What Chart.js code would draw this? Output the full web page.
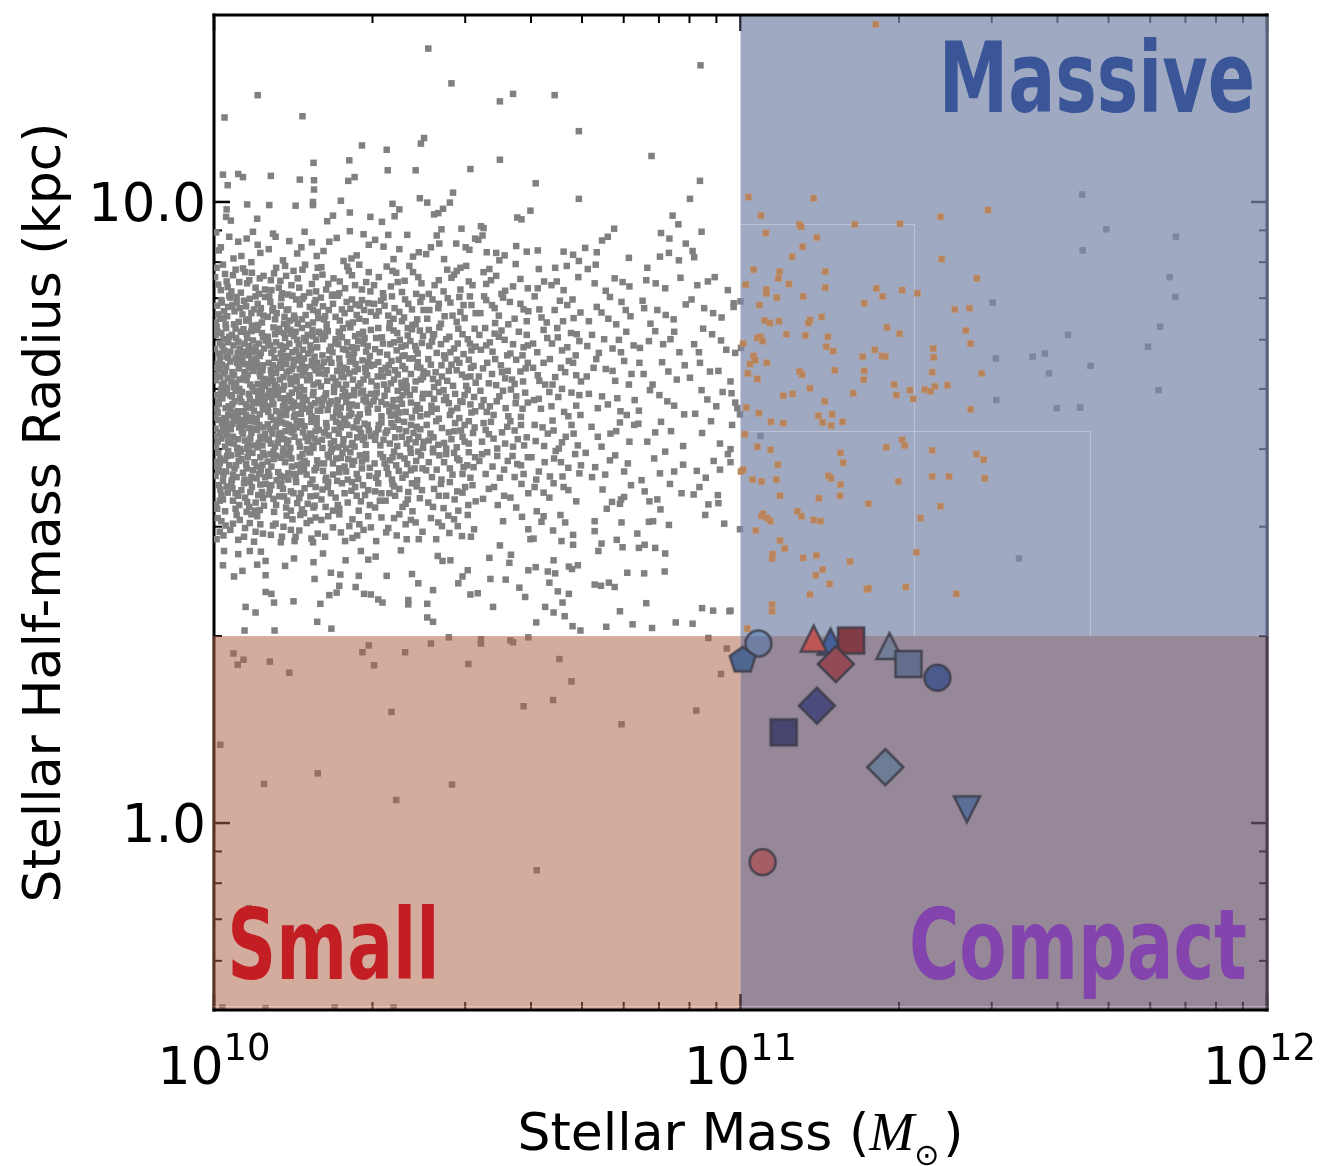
<!DOCTYPE html>
<html>
<head>
<meta charset="utf-8">
<script src="https://cdn.jsdelivr.net/npm/chart.js@4.4.0/dist/chart.umd.min.js"></script>
<style>
  html,body{margin:0;padding:0;background:#fff;}
  #wrap{width:1320px;height:1166px;}
</style>
</head>
<body>
<div id="wrap"><canvas id="chart" width="1320" height="1166"></canvas></div>
<script>
// axes
const massRange = [1e10, 1e12];
const radiusRange = [0.5, 20];
const xMajorTicks = [1e10, 1e11, 1e12];
const xTickExponents = ['10', '11', '12'];
const xMinorTicks = [2e10,3e10,4e10,5e10,6e10,7e10,8e10,9e10,2e11,3e11,4e11,5e11,6e11,7e11,8e11,9e11];
const yMajorTicks = [1, 10];
const yTickLabels = ['1.0', '10.0'];
const yMinorTicks = [0.6,0.7,0.8,0.9,2,3,4,5,6,7,8,9];

// selection cuts
const massCut = 1e11;
const radiusCut = 2;
const regionFloor = 0.507;
// upper corners of the two sub-boxes inside the massive region (log M, log R)
const boxLogMHi = [11.329, 11.664];
const boxLogRHi = [0.965, 0.632];

// field galaxies, [log10 M*, log10 R_half]
const fieldCloud = [
[10.013,.927],[10.062,.941],[10.037,.909],[10.088,.918],[10.004,.951],[10.071,.903],[10.046,.936],
[10.021,.884],[10.079,.862],[10.008,.867],[10.055,.893],[10.094,.881],[10.033,.856],[10.067,.874],[10.017,.899],[10.048,.871],[10.085,.852],[10.026,.863],[10.059,.887],[10.002,.879],
[10.043,.838],[10.011,.812],[10.076,.827],[10.029,.849],[10.091,.806],[10.054,.819],[10.006,.833],[10.068,.844],[10.038,.803],[10.083,.836],[10.019,.824],[10.061,.809],[10.097,.847],[10.025,.816],[10.049,.829],[10.072,.801],[10.014,.842],[10.087,.821],[10.035,.834],
[10.058,.772],[10.003,.786],[10.031,.759],[10.081,.794],[10.016,.768],[10.066,.753],[10.042,.781],[10.095,.764],[10.023,.797],[10.074,.777],[10.009,.756],[10.051,.791],[10.087,.752],[10.037,.769],[10.062,.788],[10.018,.779],[10.093,.783],[10.045,.757],[10.027,.774],[10.079,.766],[10.005,.799],[10.069,.762],[10.056,.795],[10.012,.751],
[10.003,.713],[10.071,.744],[10.038,.702],[10.092,.729],[10.015,.738],[10.056,.716],[10.027,.749],[10.083,.707],[10.009,.731],[10.064,.722],[10.044,.741],[10.097,.704],[10.021,.727],[10.078,.735],[10.033,.711],[10.051,.746],[10.088,.719],[10.006,.733],[10.069,.706],[10.041,.748],[10.017,.724],[10.094,.715],[10.059,.739],[10.025,.701],[10.075,.728],[10.048,.742],[10.012,.718],[10.086,.734],
[10.034,.687],[10.007,.661],[10.082,.676],[10.053,.694],[10.019,.652],[10.068,.683],[10.091,.698],[10.028,.671],[10.045,.656],[10.076,.664],[10.002,.689],[10.061,.674],[10.013,.697],[10.087,.658],[10.039,.679],[10.057,.663],[10.024,.692],[10.096,.681],[10.072,.653],[10.009,.675],[10.048,.699],[10.031,.666],[10.084,.688],[10.064,.669],[10.016,.684],[10.052,.678],[10.079,.695],[10.037,.654],[10.005,.667],[10.093,.672],
[10.011,.627],[10.058,.641],[10.085,.612],[10.032,.634],[10.004,.606],[10.071,.628],[10.046,.618],[10.023,.647],[10.094,.637],[10.062,.603],[10.017,.639],[10.079,.645],[10.038,.611],[10.053,.631],[10.008,.649],[10.088,.622],[10.027,.614],[10.066,.636],[10.042,.648],[10.014,.619],[10.074,.608],[10.097,.626],[10.049,.602],[10.035,.643],[10.082,.633],[10.001,.623],[10.059,.616],[10.021,.631],
[10.047,.583],[10.018,.561],[10.073,.596],[10.006,.574],[10.089,.568],[10.034,.552],[10.061,.578],[10.025,.591],[10.081,.555],[10.012,.587],[10.055,.564],[10.096,.593],[10.039,.571],[10.068,.549],[10.003,.559],[10.077,.581],[10.029,.576],[10.051,.598],[10.015,.566],[10.092,.577],[10.043,.557],[10.064,.589],[10.021,.584],[10.086,.562],[10.008,.596],
[10.026,.532],[10.063,.517],[10.009,.544],[10.084,.528],[10.041,.506],[10.072,.541],[10.017,.521],[10.052,.536],[10.095,.511],[10.033,.548],[10.004,.513],[10.078,.503],[10.046,.527],[10.088,.545],[10.021,.502],[10.059,.524],[10.012,.537],[10.067,.509],[10.036,.519],[10.091,.533],
[10.014,.486],[10.057,.461],[10.082,.494],[10.031,.472],[10.005,.457],[10.068,.483],[10.043,.496],[10.093,.466],[10.022,.479],[10.076,.453],[10.049,.488],[10.011,.469],
[10.117,.944],[10.158,.917],[10.186,.935],[10.131,.906],[10.172,.952],[10.104,.924],
[10.126,.873],[10.168,.891],[10.109,.858],[10.147,.866],[10.193,.879],[10.135,.897],[10.181,.854],[10.114,.885],[10.159,.877],[10.141,.851],[10.197,.894],[10.123,.862],
[10.152,.817],[10.107,.839],[10.188,.826],[10.133,.804],[10.171,.848],[10.119,.821],[10.163,.835],[10.144,.809],[10.198,.813],[10.128,.845],[10.179,.802],[10.112,.829],[10.156,.843],[10.191,.837],[10.138,.826],[10.167,.811],[10.102,.815],
[10.174,.776],[10.121,.791],[10.149,.758],[10.106,.769],[10.187,.794],[10.135,.781],[10.162,.753],[10.113,.798],[10.196,.766],[10.143,.772],[10.127,.756],[10.178,.786],[10.155,.791],[10.102,.783],[10.169,.762],[10.139,.799],[10.191,.751],[10.118,.774],[10.158,.778],[10.183,.769],[10.131,.763],[10.146,.788],
[10.138,.726],[10.104,.741],[10.177,.713],[10.151,.737],[10.116,.705],[10.193,.729],[10.129,.748],[10.164,.702],[10.109,.721],[10.186,.744],[10.145,.716],[10.121,.733],[10.172,.727],[10.198,.709],[10.133,.704],[10.159,.745],[10.112,.737],[10.181,.721],[10.148,.731],[10.125,.714],[10.167,.739],[10.103,.708],[10.191,.734],[10.141,.749],[10.156,.719],[10.118,.725],
[10.111,.678],[10.162,.691],[10.137,.657],[10.184,.673],[10.105,.696],[10.149,.669],[10.126,.684],[10.195,.652],[10.171,.686],[10.118,.663],[10.156,.699],[10.134,.676],[10.189,.694],[10.108,.654],[10.177,.667],[10.143,.688],[10.123,.697],[10.165,.659],[10.198,.681],[10.131,.671],[10.152,.654],[10.114,.689],[10.182,.663],[10.146,.679],[10.102,.671],[10.169,.677],[10.128,.661],
[10.153,.622],[10.119,.644],[10.187,.608],[10.136,.631],[10.104,.617],[10.172,.639],[10.145,.604],[10.124,.626],[10.195,.642],[10.161,.614],[10.113,.649],[10.182,.627],[10.139,.611],[10.157,.637],[10.107,.634],[10.176,.602],[10.129,.645],[10.191,.619],[10.148,.629],[10.116,.606],[10.166,.647],[10.133,.618],[10.199,.633],[10.142,.641],[10.121,.612],[10.184,.624],
[10.127,.588],[10.164,.566],[10.109,.574],[10.183,.597],[10.141,.553],[10.118,.591],[10.176,.579],[10.152,.562],[10.105,.559],[10.194,.572],[10.135,.581],[10.168,.594],[10.122,.565],[10.187,.553],[10.147,.587],[10.113,.598],[10.159,.576],[10.196,.584],[10.132,.557],[10.171,.569],[10.143,.596],[10.102,.582],
[10.146,.534],[10.118,.512],[10.183,.526],[10.128,.547],[10.167,.505],[10.104,.529],[10.193,.541],[10.139,.519],[10.156,.549],[10.114,.501],[10.178,.514],[10.131,.538],[10.162,.523],[10.109,.544],[10.189,.508],[10.151,.531],[10.124,.526],
[10.117,.482],[10.162,.471],[10.138,.495],[10.185,.458],[10.108,.464],[10.149,.489],[10.176,.483],[10.127,.452],[10.193,.492],[10.155,.461],[10.132,.477],[10.171,.499],
[10.233,.942],[10.271,.914],[10.208,.921],[10.258,.953],[10.294,.931],[10.246,.905],
[10.217,.868],[10.262,.882],[10.238,.853],[10.289,.871],[10.204,.895],[10.249,.861],[10.276,.899],[10.227,.877],[10.297,.856],[10.256,.889],[10.213,.859],
[10.243,.827],[10.209,.811],[10.281,.842],[10.226,.836],[10.264,.806],[10.298,.823],[10.235,.849],[10.271,.818],[10.214,.803],[10.252,.839],[10.288,.808],[10.231,.815],[10.259,.828],[10.203,.846],[10.277,.833],
[10.268,.784],[10.219,.761],[10.245,.797],[10.292,.768],[10.207,.779],[10.256,.754],[10.231,.773],[10.283,.791],[10.214,.795],[10.262,.766],[10.239,.787],[10.296,.752],[10.225,.758],[10.274,.776],[10.251,.762],[10.203,.788],[10.286,.781],[10.236,.771],
[10.226,.717],[10.273,.731],[10.209,.742],[10.251,.706],[10.291,.721],[10.238,.748],[10.264,.714],[10.214,.729],[10.282,.745],[10.246,.733],[10.203,.703],[10.269,.739],[10.231,.711],[10.297,.736],[10.257,.724],[10.219,.747],[10.278,.708],[10.242,.719],[10.262,.749],[10.288,.726],[10.234,.728],
[10.257,.668],[10.212,.689],[10.284,.681],[10.239,.657],[10.266,.697],[10.205,.673],[10.293,.661],[10.228,.694],[10.251,.678],[10.274,.653],[10.216,.665],[10.245,.699],[10.288,.686],[10.233,.671],[10.261,.659],[10.209,.684],[10.279,.692],[10.247,.651],[10.223,.679],[10.296,.674],[10.254,.688],[10.236,.664],
[10.214,.638],[10.263,.612],[10.237,.627],[10.286,.643],[10.206,.604],[10.249,.648],[10.272,.621],[10.228,.615],[10.294,.632],[10.241,.637],[10.218,.624],[10.267,.606],[10.253,.641],[10.283,.617],[10.232,.646],[10.209,.629],[10.276,.635],[10.245,.609],[10.298,.623],[10.224,.603],
[10.248,.574],[10.216,.593],[10.271,.562],[10.234,.551],[10.289,.586],[10.207,.567],[10.259,.597],[10.226,.579],[10.281,.571],[10.241,.588],[10.213,.556],[10.266,.583],[10.295,.559],[10.238,.565],[10.254,.553],[10.222,.598],[10.277,.592],
[10.231,.524],[10.268,.541],[10.212,.509],[10.254,.516],[10.287,.528],[10.243,.547],[10.206,.537],[10.275,.503],[10.222,.531],[10.261,.535],[10.296,.512],[10.238,.506],[10.217,.549],[10.283,.544],
[10.226,.476],[10.263,.489],[10.211,.461],[10.249,.454],[10.284,.472],[10.238,.497],[10.272,.463],[10.204,.488],[10.257,.478],[10.293,.494],
[10.322,.928],[10.367,.947],[10.341,.908],[10.389,.919],[10.306,.939],
[10.336,.864],[10.378,.887],[10.313,.879],[10.357,.855],[10.394,.869],[10.328,.896],[10.362,.873],[10.346,.886],[10.384,.852],
[10.352,.823],[10.317,.841],[10.386,.811],[10.334,.805],[10.369,.836],[10.308,.817],[10.395,.847],[10.343,.829],[10.377,.802],[10.324,.833],[10.361,.814],[10.398,.826],[10.338,.848],
[10.319,.782],[10.364,.769],[10.341,.793],[10.387,.756],[10.306,.763],[10.353,.778],[10.376,.795],[10.329,.754],[10.395,.773],[10.347,.761],[10.312,.797],[10.368,.785],[10.335,.771],[10.382,.768],[10.358,.752],
[10.358,.736],[10.311,.719],[10.383,.711],[10.337,.744],[10.366,.703],[10.304,.738],[10.349,.722],[10.392,.733],[10.323,.706],[10.371,.748],[10.342,.714],[10.318,.729],[10.387,.742],[10.356,.709],[10.331,.725],[10.397,.718],[10.363,.731],
[10.327,.674],[10.372,.689],[10.345,.658],[10.309,.693],[10.391,.667],[10.353,.682],[10.318,.655],[10.381,.698],[10.338,.671],[10.364,.662],[10.303,.679],[10.396,.684],[10.349,.696],[10.324,.688],[10.376,.653],[10.357,.675],[10.333,.663],
[10.344,.621],[10.385,.638],[10.316,.608],[10.361,.646],[10.329,.632],[10.398,.614],[10.307,.627],[10.373,.603],[10.352,.634],[10.337,.644],[10.388,.622],[10.322,.617],[10.366,.611],[10.349,.649],[10.313,.641],[10.379,.628],
[10.381,.571],[10.334,.584],[10.358,.556],[10.311,.563],[10.393,.592],[10.342,.598],[10.367,.578],[10.321,.589],[10.386,.552],[10.351,.567],[10.305,.579],[10.374,.596],[10.338,.553],[10.362,.587],[10.328,.572],
[10.318,.531],[10.364,.514],[10.339,.546],[10.391,.523],[10.306,.508],[10.352,.538],[10.377,.502],[10.326,.519],[10.385,.542],[10.344,.527],[10.369,.533],[10.312,.547],
[10.347,.463],[10.383,.484],[10.318,.492],[10.366,.457],[10.331,.475],[10.396,.469],[10.352,.497],[10.308,.454],[10.374,.488],
[10.412,.927],[10.437,.908],[10.423,.946],
[10.427,.874],[10.468,.859],[10.443,.891],[10.491,.866],[10.408,.852],[10.456,.883],[10.479,.897],
[10.438,.816],[10.474,.834],[10.415,.843],[10.461,.807],[10.497,.821],[10.426,.829],[10.486,.848],[10.449,.838],[10.405,.812],[10.468,.823],
[10.456,.764],[10.418,.787],[10.482,.779],[10.437,.753],[10.495,.796],[10.463,.772],[10.409,.768],[10.474,.755],[10.428,.798],[10.447,.783],[10.489,.761],[10.414,.775],
[10.421,.726],[10.466,.741],[10.443,.712],[10.488,.733],[10.407,.747],[10.454,.704],[10.478,.718],[10.432,.737],[10.497,.709],[10.416,.715],[10.461,.729],[10.439,.748],[10.484,.746],
[10.472,.678],[10.428,.694],[10.451,.664],[10.494,.686],[10.413,.672],[10.466,.652],[10.437,.681],[10.482,.697],[10.405,.658],[10.458,.691],[10.423,.667],[10.489,.661],[10.446,.676],
[10.433,.636],[10.476,.614],[10.417,.621],[10.458,.644],[10.492,.628],[10.441,.603],[10.404,.641],[10.469,.632],[10.426,.609],[10.484,.647],[10.451,.618],[10.411,.627],
[10.462,.587],[10.423,.569],[10.487,.556],[10.441,.594],[10.408,.581],[10.474,.573],[10.432,.553],[10.496,.589],[10.453,.561],[10.416,.597],[10.481,.576],
[10.418,.538],[10.457,.521],[10.491,.544],[10.436,.507],[10.472,.532],[10.407,.516],[10.448,.549],[10.483,.512],[10.427,.527],[10.464,.503],
[10.433,.478],[10.471,.462],[10.412,.491],[10.456,.489],[10.494,.473],[10.422,.457],[10.482,.496],[10.447,.467],
[10.517,.868],[10.553,.857],[10.582,.876],[10.536,.881],[10.596,.861],
[10.528,.834],[10.571,.812],[10.506,.821],[10.549,.846],[10.588,.827],[10.534,.805],[10.562,.839],[10.513,.848],[10.594,.808],
[10.541,.783],[10.507,.762],[10.579,.791],[10.524,.774],[10.563,.756],[10.596,.769],[10.515,.797],[10.552,.778],[10.586,.753],[10.533,.788],
[10.558,.728],[10.519,.741],[10.587,.711],[10.536,.705],[10.574,.746],[10.503,.719],[10.545,.737],[10.592,.732],[10.528,.723],[10.566,.714],
[10.512,.681],[10.554,.668],[10.591,.693],[10.531,.657],[10.573,.676],[10.506,.696],[10.542,.687],[10.583,.654],[10.524,.671],[10.564,.698],
[10.547,.629],[10.583,.641],[10.509,.614],[10.568,.606],[10.526,.646],[10.594,.621],[10.538,.603],[10.557,.638],[10.516,.633],[10.577,.618],
[10.529,.574],[10.567,.591],[10.504,.583],[10.588,.562],[10.543,.556],[10.519,.597],[10.576,.578],[10.551,.569],[10.596,.589],
[10.522,.538],[10.563,.524],[10.584,.546],[10.539,.512],[10.597,.531],
[10.627,.872],[10.664,.858],[10.692,.879],[10.641,.866],
[10.618,.827],[10.657,.841],[10.683,.813],[10.632,.806],[10.671,.834],[10.609,.848],[10.696,.822],
[10.642,.772],[10.678,.789],[10.614,.758],[10.661,.761],[10.694,.776],[10.626,.794],[10.653,.782],[10.687,.753],
[10.606,.733],[10.648,.718],[10.682,.741],[10.629,.706],[10.667,.726],[10.697,.711],[10.638,.747],[10.615,.721],
[10.654,.686],[10.621,.667],[10.688,.672],[10.637,.694],[10.673,.655],[10.608,.681],[10.661,.699],[10.694,.689],
[10.624,.637],[10.668,.622],[10.643,.648],[10.691,.608],[10.611,.615],[10.655,.603],[10.679,.641],[10.634,.627],
[10.659,.581],[10.617,.566],[10.686,.594],[10.638,.558],[10.673,.572],[10.603,.589],[10.649,.599],[10.694,.563],
[10.626,.532],[10.664,.541],[10.688,.518],[10.645,.547],
[10.723,.869],[10.761,.877],[10.744,.857],[10.789,.864],
[10.736,.822],[10.774,.839],[10.712,.808],[10.752,.847],[10.791,.816],[10.764,.803],
[10.718,.786],[10.757,.764],[10.783,.791],[10.731,.757],[10.769,.778],[10.797,.769],
[10.744,.731],[10.708,.719],[10.779,.744],[10.762,.712],[10.726,.747],[10.793,.723],
[10.729,.668],[10.766,.684],[10.712,.691],[10.784,.657],[10.748,.674],
[10.753,.627],[10.717,.638],[10.789,.614],[10.736,.606],[10.771,.645],
[10.724,.573],[10.762,.592],[10.743,.561],[10.786,.579],[10.706,.596],
[10.738,.537],[10.773,.521],[10.792,.544],
[10.821,.874],[10.857,.861],[10.886,.878],
[10.842,.826],[10.814,.841],[10.873,.811],[10.896,.835],[10.829,.804],
[10.867,.779],[10.809,.765],[10.838,.792],[10.884,.758],[10.853,.771],
[10.816,.723],[10.851,.742],[10.879,.714],[10.833,.706],[10.894,.737],
[10.846,.689],[10.807,.664],[10.874,.672],[10.828,.697],
[10.868,.631],[10.823,.614],[10.849,.646],[10.891,.607],
[10.836,.587],[10.874,.566],[10.812,.552],[10.857,.598],
[10.818,.534],[10.866,.546],
[10.918,.866],[10.951,.879],[10.976,.858],
[10.931,.829],[10.964,.814],[10.907,.843],[10.987,.837],
[10.946,.787],[10.912,.771],[10.973,.762],[10.929,.796],
[10.958,.728],[10.923,.741],[10.981,.711],[10.904,.717],
[10.937,.682],[10.966,.694],[10.914,.659],
[10.927,.628],[10.961,.611],[10.984,.641],
[10.949,.583],[10.917,.567],[10.976,.594],[10.934,.556],
[10.922,.541],[10.957,.528]
];

// more of the same population, filling the dense core
const fieldCloudExtra = [
[10.029,.944],[10.083,.931],[10.052,.913],[10.009,.922],[10.074,.952],
[10.041,.891],[10.087,.877],[10.013,.858],[10.063,.869],[10.036,.882],[10.097,.859],[10.005,.894],[10.072,.886],[10.024,.872],[10.051,.854],
[10.057,.841],[10.022,.803],[10.089,.829],[10.008,.819],[10.066,.811],[10.031,.846],[10.094,.817],[10.047,.807],[10.015,.838],[10.079,.848],[10.039,.824],[10.003,.806],[10.061,.832],[10.084,.802],[10.027,.831],[10.071,.821],[10.043,.847],[10.018,.813],
[10.034,.786],[10.077,.759],[10.011,.773],[10.049,.764],[10.091,.789],[10.024,.751],[10.063,.781],[10.006,.792],[10.085,.772],[10.041,.796],[10.019,.761],[10.071,.792],[10.053,.754],[10.098,.777],[10.029,.783],[10.066,.768],[10.002,.763],[10.082,.798],[10.046,.775],[10.014,.789],[10.058,.759],[10.089,.757],
[10.019,.708],[10.047,.732],[10.081,.741],[10.004,.721],[10.062,.713],[10.035,.726],[10.093,.737],[10.011,.745],[10.073,.702],[10.054,.749],[10.026,.716],[10.087,.724],[10.042,.709],[10.007,.739],[10.066,.733],[10.031,.743],[10.096,.711],[10.058,.726],[10.015,.706],[10.079,.748],[10.038,.721],[10.023,.735],[10.091,.704],[10.049,.714],[10.069,.738],
[10.012,.684],[10.056,.662],[10.089,.691],[10.027,.657],[10.074,.678],[10.041,.696],[10.003,.653],[10.066,.691],[10.093,.666],[10.035,.674],[10.018,.699],[10.081,.651],[10.049,.685],[10.061,.657],[10.008,.678],[10.097,.688],[10.031,.689],[10.071,.669],[10.045,.663],[10.022,.668],[10.085,.679],[10.054,.649],[10.014,.691],[10.077,.696],[10.039,.661],
[10.028,.638],[10.069,.619],[10.007,.614],[10.051,.645],[10.092,.608],[10.036,.622],[10.015,.644],[10.077,.634],[10.044,.604],[10.061,.648],[10.021,.606],[10.086,.641],[10.003,.635],[10.055,.627],[10.097,.619],[10.031,.612],[10.072,.647],[10.012,.629],[10.048,.637],[10.083,.605],[10.039,.649],[10.064,.611],[10.025,.624],
[10.032,.592],[10.074,.568],[10.011,.579],[10.058,.553],[10.088,.589],[10.023,.566],[10.045,.594],[10.097,.557],[10.005,.582],[10.066,.598],[10.036,.561],[10.081,.574],[10.017,.551],[10.052,.586],[10.093,.596],[10.027,.599],[10.071,.557],[10.042,.576],[10.009,.568],[10.062,.571],
[10.057,.547],[10.014,.528],[10.079,.516],[10.035,.539],[10.093,.523],[10.006,.506],[10.048,.512],[10.069,.533],[10.024,.542],[10.087,.504],[10.041,.531],[10.062,.501],[10.011,.519],[10.098,.546],
[10.036,.482],[10.071,.497],[10.018,.463],[10.059,.475],[10.088,.481],[10.007,.491],[10.046,.456],[10.079,.469],
[10.143,.937],[10.195,.913],[10.112,.949],[10.166,.927],
[10.151,.889],[10.108,.874],[10.186,.868],[10.129,.853],[10.173,.899],[10.137,.881],[10.194,.856],[10.118,.894],[10.162,.862],
[10.127,.833],[10.174,.818],[10.105,.848],[10.159,.804],[10.193,.842],[10.141,.827],[10.116,.811],[10.182,.831],[10.149,.849],[10.134,.815],[10.197,.823],[10.168,.844],[10.111,.825],[10.154,.812],[10.188,.806],
[10.109,.757],[10.152,.784],[10.184,.762],[10.126,.769],[10.167,.797],[10.139,.752],[10.194,.778],[10.116,.787],[10.161,.771],[10.145,.794],[10.103,.775],[10.179,.756],[10.133,.789],[10.171,.781],[10.124,.796],[10.156,.761],[10.199,.791],[10.137,.767],[10.113,.762],[10.188,.784],
[10.126,.742],[10.168,.721],[10.104,.714],[10.189,.706],[10.143,.728],[10.115,.749],[10.157,.711],[10.196,.741],[10.132,.718],[10.174,.734],[10.108,.729],[10.152,.746],[10.182,.716],[10.137,.739],[10.119,.702],[10.163,.731],[10.199,.724],[10.146,.707],[10.128,.733],[10.171,.748],[10.112,.712],[10.186,.737],
[10.121,.692],[10.167,.668],[10.142,.683],[10.103,.662],[10.188,.689],[10.154,.658],[10.131,.698],[10.176,.681],[10.113,.674],[10.197,.664],[10.138,.667],[10.162,.687],[10.107,.686],[10.185,.655],[10.148,.693],[10.125,.653],[10.171,.697],[10.159,.672],[10.116,.699],[10.192,.676],[10.136,.684],[10.181,.662],[10.152,.677],
[10.147,.638],[10.111,.627],[10.178,.615],[10.132,.603],[10.193,.631],[10.157,.647],[10.123,.619],[10.169,.629],[10.102,.642],[10.185,.646],[10.141,.616],[10.117,.637],[10.163,.606],[10.197,.614],[10.136,.643],[10.174,.621],[10.108,.611],[10.151,.633],[10.189,.604],[10.128,.628],[10.166,.641],
[10.114,.586],[10.155,.557],[10.191,.568],[10.137,.592],[10.172,.583],[10.103,.566],[10.148,.574],[10.181,.597],[10.126,.559],[10.163,.589],[10.119,.552],[10.198,.579],[10.141,.563],[10.176,.561],[10.131,.598],[10.108,.594],[10.167,.578],
[10.137,.508],[10.172,.539],[10.113,.522],[10.158,.515],[10.194,.527],[10.125,.543],[10.183,.546],[10.146,.503],[10.106,.536],[10.165,.531],[10.191,.511],[10.133,.526],
[10.146,.472],[10.183,.487],[10.112,.479],[10.164,.496],[10.129,.461],[10.197,.466],[10.153,.454],
[10.219,.936],[10.284,.948],[10.261,.909],
[10.239,.872],[10.281,.859],[10.206,.883],[10.253,.896],[10.226,.851],[10.294,.887],[10.268,.866],
[10.218,.826],[10.262,.843],[10.239,.809],[10.293,.837],[10.207,.832],[10.276,.812],[10.248,.821],[10.224,.849],[10.285,.826],[10.256,.804],[10.211,.816],[10.269,.835],
[10.253,.774],[10.211,.784],[10.289,.759],[10.237,.791],[10.266,.757],[10.222,.767],[10.298,.794],[10.245,.763],[10.276,.787],[10.206,.753],[10.259,.798],[10.231,.779],[10.284,.772],[10.216,.792],[10.271,.765],[10.243,.782],
[10.211,.723],[10.258,.743],[10.236,.706],[10.284,.714],[10.204,.734],[10.267,.727],[10.246,.718],[10.293,.742],[10.223,.741],[10.274,.703],[10.215,.712],[10.252,.731],[10.287,.733],[10.239,.738],[10.299,.711],[10.228,.702],[10.264,.748],[10.243,.725],
[10.244,.687],[10.202,.664],[10.271,.672],[10.226,.653],[10.283,.696],[10.213,.692],[10.257,.656],[10.292,.667],[10.235,.681],[10.266,.689],[10.219,.675],[10.277,.658],[10.249,.694],[10.206,.681],[10.289,.678],[10.232,.661],[10.262,.674],[10.298,.691],[10.241,.669],
[10.229,.633],[10.271,.647],[10.205,.617],[10.257,.625],[10.288,.609],[10.236,.605],[10.213,.644],[10.265,.637],[10.246,.618],[10.292,.641],[10.222,.611],[10.279,.628],[10.251,.603],[10.211,.628],[10.285,.621],[10.239,.643],[10.262,.609],
[10.232,.587],[10.274,.554],[10.209,.579],[10.251,.566],[10.289,.594],[10.226,.561],[10.263,.577],[10.244,.596],[10.296,.572],[10.218,.589],[10.281,.582],[10.238,.571],[10.255,.586],[10.212,.552],
[10.248,.531],[10.279,.518],[10.216,.541],[10.262,.549],[10.235,.512],[10.293,.536],[10.204,.521],[10.271,.527],[10.226,.503],
[10.241,.468],[10.276,.481],[10.217,.494],[10.263,.459],[10.298,.476],
[10.352,.924],[10.331,.947],[10.378,.912],
[10.349,.871],[10.304,.866],[10.388,.879],[10.321,.853],[10.371,.897],[10.339,.889],
[10.331,.817],[10.376,.827],[10.304,.836],[10.357,.808],[10.392,.839],[10.322,.846],[10.363,.843],[10.341,.812],[10.383,.803],[10.313,.824],
[10.348,.789],[10.384,.762],[10.321,.772],[10.362,.753],[10.397,.784],[10.333,.797],[10.308,.781],[10.373,.776],[10.356,.767],[10.315,.758],[10.391,.793],[10.342,.774],[10.368,.797],
[10.374,.723],[10.332,.737],[10.309,.704],[10.351,.746],[10.393,.714],[10.321,.719],[10.364,.712],[10.344,.729],[10.386,.734],[10.312,.742],[10.357,.701],[10.378,.748],[10.336,.708],[10.398,.727],[10.326,.733],
[10.341,.681],[10.383,.664],[10.311,.667],[10.366,.694],[10.329,.698],[10.392,.655],[10.352,.661],[10.306,.686],[10.374,.677],[10.336,.656],[10.397,.691],[10.358,.689],[10.318,.678],[10.386,.673],[10.347,.669],
[10.357,.622],[10.318,.645],[10.392,.634],[10.334,.611],[10.374,.641],[10.306,.617],[10.348,.607],[10.383,.613],[10.326,.628],[10.365,.631],[10.341,.638],[10.397,.604],[10.312,.634],[10.371,.618],
[10.346,.576],[10.384,.583],[10.316,.594],[10.364,.561],[10.331,.562],[10.396,.571],[10.353,.591],[10.308,.556],[10.374,.568],[10.339,.589],[10.388,.598],[10.324,.579],
[10.333,.531],[10.376,.547],[10.315,.519],[10.358,.509],[10.395,.536],[10.342,.542],[10.368,.521],[10.306,.534],
[10.327,.468],[10.364,.481],[10.389,.457],[10.342,.491],
[10.428,.933],[10.403,.916],
[10.419,.866],[10.461,.889],[10.436,.856],[10.484,.872],[10.451,.878],
[10.427,.836],[10.466,.847],[10.409,.826],[10.453,.817],[10.489,.834],[10.431,.804],[10.476,.813],[10.444,.845],
[10.431,.771],[10.472,.787],[10.408,.794],[10.449,.758],[10.486,.772],[10.423,.757],[10.464,.796],[10.441,.779],[10.497,.767],[10.416,.784],
[10.446,.728],[10.412,.738],[10.479,.704],[10.433,.719],[10.461,.746],[10.405,.724],[10.493,.736],[10.426,.709],[10.471,.722],[10.451,.738],[10.418,.702],[10.487,.719],
[10.418,.683],[10.462,.668],[10.436,.697],[10.487,.674],[10.409,.691],[10.448,.657],[10.476,.689],[10.427,.651],[10.496,.663],[10.441,.686],[10.468,.679],[10.413,.662],
[10.446,.629],[10.484,.611],[10.422,.647],[10.461,.605],[10.408,.616],[10.476,.641],[10.437,.612],[10.495,.637],[10.457,.631],[10.416,.603],[10.472,.622],
[10.437,.581],[10.472,.562],[10.414,.557],[10.456,.596],[10.493,.573],[10.428,.592],[10.466,.584],[10.403,.568],[10.484,.597],[10.448,.571],
[10.441,.527],[10.477,.541],[10.416,.509],[10.462,.534],[10.497,.518],[10.431,.546],
[10.463,.478],[10.426,.484],[10.488,.461],[10.445,.495],
[10.526,.874],[10.568,.864],[10.546,.852],
[10.541,.817],[10.582,.836],[10.517,.842],[10.559,.803],[10.597,.824],[10.533,.829],
[10.529,.759],[10.568,.771],[10.504,.786],[10.546,.793],[10.588,.766],[10.517,.769],[10.557,.753],[10.594,.786],
[10.511,.732],[10.553,.716],[10.582,.727],[10.534,.747],[10.571,.707],[10.522,.708],[10.596,.741],[10.547,.726],
[10.537,.679],[10.574,.687],[10.518,.662],[10.559,.655],[10.596,.677],[10.508,.671],[10.549,.696],[10.586,.667],
[10.531,.619],[10.571,.632],[10.512,.644],[10.553,.611],[10.589,.608],[10.522,.626],[10.563,.647],
[10.516,.562],[10.558,.583],[10.583,.576],[10.538,.591],[10.509,.594],[10.571,.557],
[10.532,.541],[10.574,.508],[10.551,.527],[10.511,.522],
[10.651,.872],[10.615,.861],
[10.647,.826],[10.681,.843],[10.622,.814],[10.663,.808],
[10.633,.781],[10.671,.766],[10.606,.772],[10.652,.797],[10.689,.787],
[10.626,.741],[10.659,.733],[10.688,.721],[10.618,.712],[10.674,.744],[10.643,.706],
[10.641,.671],[10.679,.693],[10.617,.683],[10.665,.662],[10.696,.657],
[10.645,.632],[10.609,.641],[10.683,.627],[10.661,.613],[10.627,.607],
[10.628,.581],[10.662,.558],[10.697,.576],[10.646,.587],[10.612,.553],
[10.637,.524],[10.673,.536],[10.609,.541],
[10.776,.871],[10.727,.831],[10.782,.826],[10.749,.812],[10.741,.779],[10.773,.758],[10.709,.768],
[10.757,.728],[10.721,.733],[10.788,.706],[10.737,.687],[10.772,.663],[10.799,.681],
[10.729,.622],[10.764,.631],[10.798,.641],[10.752,.584],[10.718,.557],[10.779,.566],[10.756,.517],
[10.839,.869],[10.858,.818],[10.817,.829],[10.826,.776],[10.874,.791],[10.863,.727],[10.808,.741],
[10.861,.679],[10.893,.658],[10.838,.629],[10.806,.643],[10.891,.577],[10.847,.563],[10.842,.521],[10.888,.531],
[10.938,.872],[10.948,.821],[10.963,.777],[10.921,.758],[10.942,.727],[10.954,.671],[10.926,.697],[10.944,.647],[10.961,.569],[10.939,.513]
];

// sparse field galaxies: outskirts of the cloud, the small region and the massive end
const fieldSparse = [
[10.407,1.247],[10.451,1.191],[10.083,1.172],[10.020,1.136],[10.168,1.138],[10.543,1.162],[10.568,1.174],[10.647,1.172],[10.693,1.114],[10.281,1.091],[10.328,1.084],[10.393,1.094],[10.399,1.103],[10.189,1.063],[10.257,1.067],[10.543,1.068],[10.330,1.051],[10.383,1.051],[10.487,1.053],[10.611,1.030],
[10.017,1.044],[10.046,1.045],[10.055,1.040],[10.108,1.042],[10.163,1.036],[10.190,1.035],[10.255,1.034],[10.267,1.040],[10.026,1.027],[10.190,1.020],[10.454,1.015],[10.391,1.006],[10.405,.999],[10.693,1.005],[10.241,1.002],[10.339,.997],[10.352,.988],[10.188,1.000],[10.188,.995],[10.155,.994],
[10.105,.995],[10.063,.996],[10.024,.988],[10.023,.976],[10.032,.970],[10.082,.973],[10.258,.983],[10.297,.976],[10.319,.968],[10.343,.977],[10.226,.978],[10.215,.969],[10.418,.980],[10.426,.982],[10.435,.989],[10.448,.999],[10.470,.957],[10.432,.956],[10.507,.961],[10.512,.958],
[10.576,.975],[10.584,.972],[10.601,.986],[10.737,.938],[10.748,.944],[10.760,.957],[10.924,1.220],[10.831,1.074],[10.923,1.034],[10.904,1.005],[10.871,.978],[10.882,.964],[10.849,.950],[10.865,.941],[10.926,.952],[10.896,.933],[10.909,.921],[10.912,.911],[10.883,.906],[10.864,.918],
[10.847,.912],[10.823,.894],[10.788,.910],[10.727,.919],[10.705,.926],[10.693,.905],[10.682,.915],[10.664,.920],[10.615,.922],[10.594,.920],[10.574,.929],[10.552,.914],[10.536,.918],[10.518,.919],[10.510,.946],[10.502,.939],[10.496,.941],[10.460,.933],[10.478,.927],[10.485,.923],
[10.542,.906],[10.573,.900],[10.617,.892],[10.648,.894],[10.670,.897],[10.710,.892],[10.725,.899],[10.468,.894],[10.512,.887],[10.523,.892],
[11.649,1.012],[11.695,.956],[11.650,.922],[11.479,.838],[11.622,.786],[11.578,.756],[11.555,.751],[11.485,.748],[11.665,.736],[11.586,.724],[11.486,.681],[11.601,.668],[11.645,.669],[11.827,.944],[11.815,.879],[11.826,.847],[11.797,.799],[11.774,.767],[11.794,.697],[11.529,.426],
[11.000,.840],[10.987,.831],[11.001,.765],[10.990,.757],[10.983,.692],[10.990,.677],[10.994,.668],[10.999,.658],[11.038,.623],[10.999,.473],[10.981,.602],[10.981,.581],[10.981,.342],
[10.037,.273],[10.045,.255],[10.056,.263],[10.106,.260],[10.143,.242],[10.282,.275],[10.294,.286],[10.304,.254],[10.363,.275],[10.412,.289],[10.446,.299],[10.507,.296],[10.507,.289],[10.568,.291],[10.597,.299],[10.483,.256],[10.656,.264],[10.679,.228],[10.644,.198],[10.588,.188],
[10.337,.179],[10.774,.159],[10.916,.181],[10.939,.298],[10.974,.281],[10.963,.240],[10.012,.126],[10.095,.063],[10.197,.080],[10.452,.062],[10.346,.037],[10.613,-.076],[10.066,-.137],[10.201,-.176],[10.016,-.297],[10.098,-.298],[10.229,-.297],[10.341,-.297],[10.563,.294],
[10.017,.415],[10.038,.397],[10.054,.406],[10.098,.399],[10.082,.416],[10.098,.422],[10.135,.414],[10.152,.426],[10.189,.420],[10.191,.393],[10.222,.403],[10.240,.400],[10.238,.382],[10.219,.367],[10.233,.371],[10.269,.380],[10.250,.423],[10.275,.398],[10.285,.369],[10.298,.368],
[10.312,.360],[10.320,.355],[10.328,.398],[10.293,.424],[10.307,.429],[10.369,.359],[10.369,.352],[10.376,.401],[10.388,.386],[10.405,.353],[10.416,.375],[10.405,.331],[10.416,.324],[10.425,.430],[10.434,.422],[10.449,.423],[10.472,.397],[10.464,.386],[10.487,.368],[10.501,.370],
[10.525,.393],[10.523,.427],[10.554,.392],[10.561,.419],[10.530,.348],[10.060,.348],[10.079,.339],[10.114,.355],[10.151,.357],[10.202,.353],[10.196,.324],[10.223,.313],[10.115,.310],[10.058,.310],[10.098,.372],[10.109,.369],[10.068,.438],[10.089,.437],[10.019,.438],[10.046,.433],
[10.188,.452],[10.207,.434],[10.279,.438],[10.355,.439],[10.482,.407],[10.543,.447],[10.564,.432],
[10.580,.379],[10.591,.364],[10.612,.323],[10.629,.348],[10.645,.339],[10.637,.387],[10.653,.373],[10.662,.355],[10.666,.333],[10.674,.369],[10.681,.317],[10.696,.310],[10.597,.407],[10.611,.412],[10.634,.405],[10.648,.402],[10.645,.423],[10.674,.413],[10.680,.409],[10.691,.415],
[10.723,.384],[10.735,.382],[10.750,.387],[10.761,.380],[10.730,.438],[10.765,.456],[10.776,.444],[10.785,.403],[10.817,.402],[10.856,.405],[10.807,.443],[10.818,.448],[10.838,.443],[10.857,.434],[10.804,.466],[10.771,.341],[10.821,.354],[10.745,.316],[10.795,.320],[10.832,.314],
[10.877,.323],[10.909,.321],[10.927,.346],[10.948,.342],[10.979,.341],[10.933,.496],[10.969,.482],[10.958,.515],[10.911,.529],[10.864,.480],[10.848,.505],[10.827,.518],[10.834,.486],[10.826,.485],[10.774,.484],[10.771,.514],[10.779,.525],[10.746,.506],[10.723,.486],[10.723,.470],
[10.736,.450],[10.682,.464],[10.682,.448],[10.660,.454],[10.644,.471],[10.658,.496],[10.667,.484],[10.622,.485],[10.626,.494],[10.613,.502],[10.607,.458],[10.601,.457],[10.597,.473],[10.585,.493],[10.549,.486]
];

// massive-galaxy comparison sample, [log10 M*, log10 R_half]
const massiveSample = [
[11.015,1.008],[11.139,1.006],[11.039,.978],[11.112,.964],[11.115,.960],[11.217,.964],[11.303,.965],[11.048,.950],[11.145,.943],[11.118,.928],[11.098,.912],[11.380,.976],[11.470,.987],[11.382,.908],[11.025,.891],[11.074,.888],[11.161,.888],[11.072,.877],[11.010,.867],[11.092,.868],
[11.049,.859],[11.049,.853],[11.161,.862],[11.069,.846],[11.119,.848],[11.258,.861],[11.307,.858],[11.270,.848],[11.336,.853],[11.235,.837],[11.036,.834],[11.449,.877],[11.407,.827],[11.435,.829],[11.046,.809],[11.056,.805],[11.073,.808],[11.132,.810],[11.129,.805],[11.154,.815],
[11.278,.798],[11.302,.788],[11.428,.793],[11.087,.787],[11.123,.785],[11.166,.783],[11.032,.781],[11.038,.783],[11.042,.776],[11.005,.772],[11.163,.767],[11.176,.760],[11.255,.762],[11.269,.752],[11.275,.751],[11.232,.751],[11.366,.764],[11.367,.750],[11.437,.772],[11.025,.752],
[11.028,.745],[11.018,.739],[11.050,.741],[11.112,.727],[11.117,.722],[11.014,.724],[11.179,.729],[11.235,.728],[11.234,.714],[11.032,.715],[11.364,.726],[11.458,.724],[11.132,.700],[11.099,.691],[11.081,.688],[11.292,.706],[11.322,.697],[11.350,.698],[11.361,.695],[11.369,.703],
[11.393,.705],[11.214,.692],[11.296,.689],[11.328,.683],[11.160,.679],[11.011,.669],[11.035,.660],[11.148,.656],[11.174,.658],[11.156,.645],[11.172,.640],[11.194,.646],[11.058,.646],[11.081,.644],[11.437,.666],[11.008,.626],[11.032,.606],[11.057,.601],[11.190,.596],[11.277,.605],
[11.307,.617],[11.312,.608],[11.364,.600],[11.448,.594],[11.462,.585],[11.195,.580],[11.071,.577],[11.001,.566],[11.005,.569],[11.023,.553],[11.040,.550],[11.068,.553],[11.167,.559],[11.172,.555],[11.190,.545],[11.189,.527],[11.300,.550],[11.364,.558],[11.396,.558],[11.464,.555],
[11.075,.527],[11.149,.523],[11.243,.514],[11.380,.510],[11.108,.502],[11.116,.494],[11.040,.494],[11.043,.498],[11.051,.491],[11.057,.486],[11.139,.488],[11.152,.486],[11.342,.491],[11.029,.471],[11.075,.455],[11.084,.442],[11.061,.433],[11.060,.426],[11.119,.427],[11.144,.431],
[11.208,.421],[11.334,.436],[11.156,.408],[11.143,.399],[11.169,.385],[11.240,.376],[11.243,.378],[11.314,.380],[11.132,.368],[11.410,.369],[11.060,.352],[11.060,.341],[11.013,.313],[11.257,1.286]
];

// compact candidates
const compactLogM = [11.034, 11.004, 11.171, 11.139, 11.210, 11.181, 11.283, 11.319, 11.374, 11.145, 11.082, 11.275, 11.430, 11.042];
const compactLogR = [0.289, 0.262, 0.292, 0.297, 0.294, 0.256, 0.285, 0.256, 0.234, 0.189, 0.146, 0.090, 0.022, -0.063];
const compactShape = ['circle','pentagon','triangle','triangle','square','diamond','triangle','square','circle','diamond','square','diamond','triangleDown','circle'];
const compactFill = ['rgba(40,110,180,0.35)','#4f6690','#46609a','#be5656','#823c46','#924b56','#737d96','#646e8c','#4b5a8c','#4b4b7d','#46466e','#6e7d96','#5a6e96','#a55f64'];

const toPoints = arr => arr.map(p => ({x: 10 ** p[0], y: 10 ** p[1]}));

function makeMarker(shape, fill){
  const c = document.createElement('canvas');
  c.width = 46; c.height = 46;
  const g = c.getContext('2d');
  g.translate(23, 23);
  g.beginPath();
  if(shape === 'circle') g.arc(0, 0, 13, 0, Math.PI*2);
  else if(shape === 'square') g.rect(-13, -13, 26, 26);
  else if(shape === 'diamond'){ g.moveTo(0,-18); g.lineTo(18,0); g.lineTo(0,18); g.lineTo(-18,0); g.closePath(); }
  else if(shape === 'triangle'){ g.moveTo(0,-13); g.lineTo(13,13); g.lineTo(-13,13); g.closePath(); }
  else if(shape === 'triangleDown'){ g.moveTo(0,13); g.lineTo(13,-13); g.lineTo(-13,-13); g.closePath(); }
  else if(shape === 'pentagon'){
    for(let i=0;i<5;i++){
      const t = -Math.PI/2 + i*2*Math.PI/5;
      if(i) g.lineTo(13.5*Math.cos(t), 13.5*Math.sin(t)); else g.moveTo(13.5*Math.cos(t), 13.5*Math.sin(t));
    }
    g.closePath();
  }
  g.fillStyle = fill; g.fill();
  g.lineWidth = 2.5; g.strokeStyle = 'rgba(60,60,72,0.85)'; g.stroke();
  return c;
}

function line(ctx, x1, y1, x2, y2){
  ctx.beginPath(); ctx.moveTo(x1, y1); ctx.lineTo(x2, y2); ctx.stroke();
}

// ticks (inward, all four sides) and side spines, drawn under the shaded regions
function drawTicks(chart){
  const {ctx, chartArea: a, scales: {x, y}} = chart;
  ctx.save();
  ctx.strokeStyle = '#000';
  ctx.lineWidth = 2.5;
  xMajorTicks.forEach(v => { const p = x.getPixelForValue(v); line(ctx, p, a.bottom, p, a.bottom-16); line(ctx, p, a.top, p, a.top+16); });
  yMajorTicks.forEach(v => { const p = y.getPixelForValue(v); line(ctx, a.left, p, a.left+16, p); line(ctx, a.right, p, a.right-16, p); });
  ctx.lineWidth = 2;
  xMinorTicks.forEach(v => { const p = x.getPixelForValue(v); line(ctx, p, a.bottom, p, a.bottom-8); line(ctx, p, a.top, p, a.top+8); });
  yMinorTicks.forEach(v => { const p = y.getPixelForValue(v); line(ctx, a.left, p, a.left+8, p); line(ctx, a.right, p, a.right-8, p); });
  ctx.lineWidth = 3;
  line(ctx, a.left, a.top-1.5, a.left, a.bottom+1.5);
  line(ctx, a.right, a.top-1.5, a.right, a.bottom+1.5);
  ctx.restore();
}

function drawRegions(chart){
  const {ctx, chartArea: a, scales: {x, y}} = chart;
  const xc = x.getPixelForValue(massCut);
  const yc = y.getPixelForValue(radiusCut);
  const l = a.left - 1.5, r = a.right + 1.5;
  ctx.save();
  ctx.fillStyle = 'rgba(122,136,170,0.72)';
  ctx.fillRect(xc, a.top, r - xc, yc - a.top);
  ctx.fillStyle = 'rgba(174,98,72,0.53)';
  ctx.fillRect(l, yc, xc - l, a.bottom - yc);
  ctx.fillStyle = 'rgba(105,86,108,0.7)';
  ctx.fillRect(xc, yc, r - xc, a.bottom - yc);
  ctx.strokeStyle = 'rgba(255,255,255,0.3)';
  ctx.lineWidth = 1;
  boxLogMHi.forEach((m, i) => {
    const x1 = Math.round(x.getPixelForValue(10 ** m)) + 0.5;
    const y1 = Math.round(y.getPixelForValue(10 ** boxLogRHi[i])) + 0.5;
    ctx.beginPath();
    ctx.moveTo(xc, y1); ctx.lineTo(x1, y1); ctx.lineTo(x1, yc);
    ctx.stroke();
  });
  const yf = Math.round(y.getPixelForValue(regionFloor)) + 0.5;
  line(ctx, a.left, yf, a.right, yf);
  ctx.restore();
}

function regionLabel(ctx, text, color, left, base, width){
  ctx.save();
  ctx.font = 'bold 98px "Liberation Sans Narrow", "DejaVu Sans Condensed", "Liberation Sans", sans-serif';
  const m = ctx.measureText(text);
  const ink = m.actualBoundingBoxLeft + m.actualBoundingBoxRight;
  ctx.translate(left, base);
  ctx.scale(width / ink, 1);
  ctx.fillStyle = color;
  ctx.textAlign = 'left';
  ctx.textBaseline = 'alphabetic';
  ctx.fillText(text, m.actualBoundingBoxLeft, 0);
  ctx.restore();
}

function drawFrameAndText(chart){
  const {ctx, chartArea: a, scales: {x, y}} = chart;
  ctx.save();
  ctx.strokeStyle = '#000';
  ctx.lineWidth = 3;
  line(ctx, a.left-1.5, a.top, a.right+1.5, a.top);
  line(ctx, a.left-1.5, a.bottom, a.right+1.5, a.bottom);

  regionLabel(ctx, 'Massive', '#3a5698', a.right - 322, a.top + 97, 307);
  regionLabel(ctx, 'Small', '#c41e25', a.left + 18, a.bottom - 31, 202);
  regionLabel(ctx, 'Compact', '#8444ad', a.right - 355, a.bottom - 31, 334);

  ctx.fillStyle = '#000';
  ctx.textBaseline = 'alphabetic';
  // y tick labels
  ctx.font = '53px "DejaVu Sans"';
  ctx.textAlign = 'right';
  yMajorTicks.forEach((v, i) => {
    ctx.fillText(yTickLabels[i], a.left - 8, y.getPixelForValue(v) + 19);
  });
  // x tick labels: 10 with exponent
  xMajorTicks.forEach((v, i) => {
    ctx.font = '52px "DejaVu Sans"';
    const w1 = ctx.measureText('10').width;
    ctx.font = '37px "DejaVu Sans"';
    const w2 = ctx.measureText(xTickExponents[i]).width;
    let x0 = x.getPixelForValue(v) - (w1 + w2) / 2;
    if(x0 + w1 + w2 > chart.width - 4) x0 = chart.width - 4 - w1 - w2;
    ctx.textAlign = 'left';
    ctx.font = '52px "DejaVu Sans"';
    ctx.fillText('10', x0, a.bottom + 74);
    ctx.font = '37px "DejaVu Sans"';
    ctx.fillText(xTickExponents[i], x0 + w1, a.bottom + 50);
  });

  // x axis title with M_sun
  const base = a.bottom + 140;
  ctx.font = '52px "DejaVu Sans"';
  const part1 = 'Stellar Mass (';
  const w1 = ctx.measureText(part1).width;
  ctx.font = 'italic 54px "Liberation Serif", "DejaVu Serif", serif';
  const wM = ctx.measureText('M').width;
  ctx.font = '30px "DejaVu Sans"';
  const wS = ctx.measureText('\u2299').width;
  ctx.font = '52px "DejaVu Sans"';
  const wP = ctx.measureText(')').width;
  let cx = (a.left + a.right) / 2 - (w1 + wM + wS + wP + 4) / 2;
  ctx.textAlign = 'left';
  ctx.fillText(part1, cx, base); cx += w1;
  ctx.font = 'italic 54px "Liberation Serif", "DejaVu Serif", serif';
  ctx.fillText('M', cx, base); cx += wM;
  ctx.font = '30px "DejaVu Sans"';
  ctx.fillText('\u2299', cx, base + 15); cx += wS + 4;
  ctx.font = '52px "DejaVu Sans"';
  ctx.fillText(')', cx, base);

  // y axis title
  ctx.translate(60, (a.top + a.bottom) / 2);
  ctx.rotate(-Math.PI / 2);
  ctx.textAlign = 'center';
  ctx.font = '52px "DejaVu Sans"';
  ctx.fillText('Stellar Half-mass Radius (kpc)', 0, 0);
  ctx.restore();
}

const massPlot = {
  id: 'massPlot',
  beforeDraw(chart){
    const {ctx, width, height} = chart;
    ctx.save(); ctx.fillStyle = '#fff'; ctx.fillRect(0, 0, width, height); ctx.restore();
  },
  beforeDatasetsDraw(chart){ drawTicks(chart); },
  afterDatasetDraw(chart, args){ if(args.index === 0) drawRegions(chart); },
  afterDatasetsDraw(chart){ drawFrameAndText(chart); }
};

new Chart(document.getElementById('chart'), {
  type: 'scatter',
  data: {
    datasets: [
      {
        label: 'field',
        data: toPoints(fieldCloud.concat(fieldCloudExtra, fieldSparse)),
        pointStyle: 'rect',
        pointRadius: 4.6,
        backgroundColor: '#808080',
        borderWidth: 0,
        order: 3
      },
      {
        label: 'massive',
        data: toPoints(massiveSample),
        pointStyle: 'rect',
        pointRadius: 4.4,
        backgroundColor: '#b7835c',
        borderColor: 'rgba(205,150,105,0.6)',
        borderWidth: 0.8,
        order: 2
      },
      {
        label: 'compact',
        data: compactLogM.map((m, i) => ({x: 10 ** m, y: 10 ** compactLogR[i]})),
        pointStyle: compactShape.map((s, i) => makeMarker(s, compactFill[i])),
        pointRadius: 14,
        order: 1
      }
    ]
  },
  options: {
    responsive: false,
    animation: false,
    devicePixelRatio: 1,
    events: [],
    layout: {padding: {left: 214, right: 53, top: 12, bottom: 156}},
    plugins: {legend: {display: false}, tooltip: {enabled: false}},
    scales: {
      x: {type: 'logarithmic', display: false, min: massRange[0], max: massRange[1]},
      y: {type: 'logarithmic', display: false, min: radiusRange[0], max: radiusRange[1]}
    }
  },
  plugins: [massPlot]
});
</script>
</body>
</html>
